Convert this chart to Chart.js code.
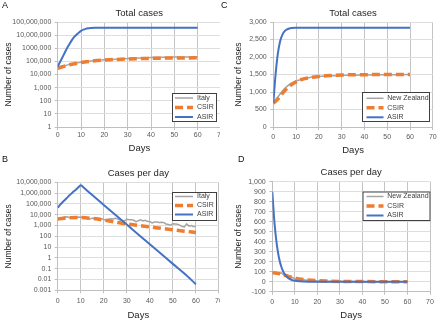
<!DOCTYPE html>
<html>
<head>
<meta charset="utf-8">
<script src="https://cdn.jsdelivr.net/npm/chart.js@4.4.0/dist/chart.umd.min.js"></script>
<style>
  body { margin: 0; background: #fff; width: 440px; height: 321px; position: relative; overflow: hidden; font-family: "Liberation Sans", Arial, sans-serif; }
  .panel { position: absolute; overflow: hidden; }
  .letter { position: absolute; font-size: 9px; line-height: 9px; color: #111; }
</style>
</head>
<body>
<div class="panel" style="left:0;top:0;width:220px;height:160px"><canvas id="chartA"></canvas></div>
<div class="panel" style="left:0;top:160px;width:220px;height:161px"><canvas id="chartB"></canvas></div>
<div class="panel" style="left:220px;top:0;width:220px;height:160px"><canvas id="chartC"></canvas></div>
<div class="panel" style="left:220px;top:160px;width:220px;height:161px"><canvas id="chartD"></canvas></div>
<div class="letter" style="left:2px;top:1px">A</div>
<div class="letter" style="left:2px;top:155px">B</div>
<div class="letter" style="left:221px;top:1px">C</div>
<div class="letter" style="left:238px;top:155px">D</div>
<script>
// ---- data ----
const xTicks = [0, 10, 20, 30, 40, 50, 60, 70]

// A: total cases, Italy (log axis)
const logTicksA = [1, 10, 100, 1000, 1e4, 1e5, 1e6, 1e7, 1e8]
const logLabelsA = ['1', '10', '100', '1,000', '10,000', '100,000', '1000,000', '10,000,000', '100,000,000']
const italyTotalDays = [0, 5, 10, 15, 20, 25, 30, 35, 40, 45, 50, 55, 60]
const italyTotal = [31500, 59100, 86500, 110600, 132500, 147600, 169000, 183000, 197700, 205500, 214500, 219800, 224800]
const csirTotalItaly = [30000, 55000, 82000, 105000, 125000, 140000, 152000, 162000, 170000, 176000, 180000, 183000, 185000]
const asirTotalItalyDays = [0, 1, 2, 3, 4, 5, 6, 7, 8, 9, 10, 11, 12, 13, 14, 16, 20, 30, 40, 50, 60]
const asirTotalItaly = [40000, 90000, 200000, 450000, 1000000, 2000000, 4000000, 7000000, 10500000, 15000000, 21000000,
  26000000, 30000000, 33000000, 35000000, 36500000, 37000000, 37000000, 37000000, 37000000, 37000000]

// B: cases per day, Italy (log axis)
const logTicksB = [0.001, 0.01, 0.1, 1, 10, 100, 1000, 1e4, 1e5, 1e6, 1e7]
const logLabelsB = ['0.001', '0.01', '0.1', '1', '10', '100', '1,000', '10,000', '100,000', '1,000,000', '10,000,000']
const dailyDays = [0, 1, 2, 3, 4, 5, 6, 7, 8, 9, 10, 11, 12, 13, 14, 15, 16, 17, 18, 19, 20, 21, 22, 23, 24, 25, 26, 27, 28, 29, 30,
  31, 32, 33, 34, 35, 36, 37, 38, 39, 40, 41, 42, 43, 44, 45, 46, 47, 48, 49, 50, 51, 52, 53, 54, 55, 56, 57, 58, 59, 60]
const italyDaily = [3526, 4207, 5322, 5986, 6557, 5560, 4789, 5249, 5210, 6153, 5959, 5974, 5217, 4050, 4053,
  4782, 4668, 4585, 4805, 4316, 3599, 3039, 3836, 4204, 3951, 4694, 4092, 3153, 2972, 2667, 3786, 3493, 3491, 3047, 2256,
  2729, 3370, 2646, 3021, 2357, 2324, 1739, 2091, 2086, 1872, 1965, 1900, 1389, 1221, 1075, 1444, 1401, 1327, 1083, 802,
  744, 1402, 888, 992, 789, 875]
const csirDailyItalyDays = [0, 5, 10, 15, 20, 25, 30, 35, 40, 45, 50, 55, 60]
const csirDailyItaly = [4000, 5200, 5600, 4500, 3200, 2100, 1400, 1000, 750, 540, 400, 300, 230]
const asirDailyItalyDays = [0, 1, 2, 3, 4, 5, 6, 7, 8, 9, 10, 11, 12, 15, 20, 25, 30, 35, 40, 45, 50, 55, 60]
const asirDailyItaly = [45000, 80000, 135000, 220000, 360000, 590000, 930000, 1450000, 2200000, 3500000, 5300000, 3700000, 2400000,
  660000, 81000, 10000, 1230, 150, 18.6, 2.3, 0.28, 0.035, 0.0037]

// C: total cases, New Zealand
const linTicksC = [0, 500, 1000, 1500, 2000, 2500, 3000]
const linLabelsC = ['0', '500', '1,000', '1,500', '2,000', '2,500', '3,000']
const nzTotalDays = [0, 2, 4, 6, 8, 10, 12, 14, 16, 18, 20, 25, 30, 35, 40, 50, 60]
const nzTotal = [700, 860, 1030, 1160, 1250, 1310, 1350, 1385, 1415, 1435, 1445, 1465, 1475, 1482, 1487, 1492, 1497]
const csirTotalNzDays = [0, 2, 4, 6, 8, 10, 12, 15, 20, 25, 30, 40, 50, 60]
const csirTotalNz = [680, 800, 960, 1100, 1210, 1290, 1350, 1400, 1445, 1470, 1485, 1495, 1498, 1500]
const asirTotalNzDays = [0, 1, 2, 3, 4, 5, 6, 7, 8, 10, 15, 20, 30, 40, 50, 60]
const asirTotalNz = [680, 1500, 2100, 2450, 2640, 2740, 2790, 2815, 2828, 2835, 2838, 2838, 2838, 2838, 2838, 2838]

// D: cases per day, New Zealand
const linTicksD = [-100, 0, 100, 200, 300, 400, 500, 600, 700, 800, 900, 1000]
const linLabelsD = ['-100', '0', '100', '200', '300', '400', '500', '600', '700', '800', '900', '1,000']
const nzDaily = [90, 85, 75, 82, 89, 67, 54, 50, 29, 44, 29, 18, 19, 17, 20, 15, 15, 8, 13, 9, 5, 6, 5, 3, 5, 1, 5, 3, 2, 3,
  6, 2, 2, 1, 0, 0, 1, 0, 2, 1, 0, 0, 0, 1, 0, 0, 0, 0, 1, 0, 0, 0, 0, 0, 0, 0, 1, 0, 0, 0, 0]
const csirDailyNzDays = [0, 2, 4, 6, 8, 10, 12, 15, 20, 25, 30, 40, 50, 60]
const csirDailyNz = [90, 85, 75, 62, 48, 36, 27, 18, 10, 6, 3, 1, 0.5, 0.2]
const asirDailyNzDays = [0, 1, 2, 3, 4, 5, 6, 7, 8, 9, 10, 12, 14, 16, 20, 30, 40, 50, 60]
const asirDailyNz = [900, 580, 370, 235, 150, 95, 60, 38, 24, 15, 10, 4, 1.6, 0.6, 0.1, 0, 0, 0, 0]

// ---- drawing ----
const FONT = '"Liberation Sans", Arial, sans-serif'
const GRAY = '#a5a5a5'
const ORANGE = '#ed7d31'
const BLUE = '#4472c4'

const pts = (xs, ys) => xs.map((x, i) => ({ x: x, y: ys[i] }))

// legend box drawn inside the plot, like the spreadsheet one
const boxLegend = {
  id: 'boxLegend',
  afterDraw(chart, args, o) {
    const ctx = chart.ctx
    ctx.save()
    ctx.fillStyle = '#fff'
    ctx.fillRect(o.x, o.y, o.w, o.h)
    ctx.strokeStyle = '#404040'
    ctx.lineWidth = 1
    ctx.strokeRect(o.x + 0.5, o.y + 0.5, o.w - 1, o.h - 1)
    chart.data.datasets.forEach((ds, i) => {
      const ry = o.rows[i]
      ctx.beginPath()
      ctx.strokeStyle = ds.borderColor
      ctx.lineWidth = ds.borderWidth
      ctx.setLineDash(ds.borderDash || [])
      ctx.moveTo(o.sample[0], ry)
      ctx.lineTo(o.sample[1], ry)
      ctx.stroke()
      ctx.setLineDash([])
      ctx.fillStyle = '#404040'
      ctx.font = '7px ' + FONT
      ctx.textBaseline = 'middle'
      ctx.fillText(ds.label, o.textX, ry)
    })
    ctx.restore()
  }
}

const makeDatasets = (names, grayPts, orangePts, bluePts, grayTension) => [
  { label: names[0], data: grayPts, borderColor: GRAY, borderWidth: 1.5, order: 3,
    tension: grayTension ? 0.4 : 0, cubicInterpolationMode: grayTension ? 'monotone' : 'default' },
  { label: names[1], data: orangePts, borderColor: ORANGE, borderWidth: 3.5, borderDash: [8, 4], order: 2,
    cubicInterpolationMode: 'monotone' },
  { label: names[2], data: bluePts, borderColor: BLUE, borderWidth: 2, order: 1,
    cubicInterpolationMode: 'monotone' }
]

const createPanel = (id, p) => {
  const canvas = document.getElementById(id)
  canvas.width = p.w
  canvas.height = p.h
  const config = {
    type: 'line',
    data: { datasets: p.datasets },
    plugins: [boxLegend],
    options: {
      responsive: false,
      animation: false,
      events: [],
      layout: { padding: p.padding },
      elements: { point: { radius: 0 } },
      plugins: {
        legend: { display: false },
        tooltip: { enabled: false },
        title: {
          display: true, text: p.title, fullSize: false, color: '#262626',
          font: { family: FONT, size: 9.5, weight: 'normal' },
          padding: p.titlePad
        },
        boxLegend: p.legend
      },
      scales: {
        x: {
          type: 'linear', min: 0, max: 70,
          afterBuildTicks: s => { s.ticks = xTicks.map(v => ({ value: v })) },
          afterFit: s => { s.height = p.xH },
          ticks: { color: '#595959', font: { family: FONT, size: 7 }, padding: p.xTickPad, maxRotation: 0, autoSkip: false },
          grid: { color: '#c4c4c4', tickLength: 3, tickColor: '#bfbfbf' },
          border: { color: '#bfbfbf' },
          title: { display: true, text: 'Days', color: '#262626', font: { family: FONT, size: 9.5 }, padding: { top: 0, bottom: p.daysPad } }
        },
        y: {
          type: p.yType, min: p.yTicks[0], max: p.yTicks[p.yTicks.length - 1],
          afterBuildTicks: s => { s.ticks = p.yTicks.map(v => ({ value: v })) },
          afterFit: s => { s.width = p.yW },
          ticks: { color: '#595959', font: { family: FONT, size: 7 }, padding: p.yTickPad, autoSkip: false,
            callback: (v, i) => p.yLabels[i] },
          grid: { color: '#dedede', tickLength: 3, tickColor: '#bfbfbf' },
          border: { color: '#bfbfbf' },
          title: { display: true, text: 'Number of cases', color: '#262626', font: { family: FONT, size: 8.5 }, padding: { top: p.yTitlePad, bottom: 0 } }
        }
      }
    }
  }
  return new Chart(canvas, config)
}

const namesItaly = ['Italy', 'CSIR', 'ASIR']
const namesNz = ['New Zealand', 'CSIR', 'ASIR']

createPanel('chartA', {
  w: 226, h: 160, padding: { left: 3, right: 5, top: 0, bottom: 5 },
  title: 'Total cases', titlePad: { top: 7.3, bottom: 3.3 },
  xH: 28, xTickPad: 1, daysPad: 1.3, yW: 54.7, yTickPad: 3.4, yTitlePad: 1,
  yType: 'logarithmic', yTicks: logTicksA, yLabels: logLabelsA,
  datasets: makeDatasets(namesItaly, pts(italyTotalDays, italyTotal), pts(italyTotalDays, csirTotalItaly),
    pts(asirTotalItalyDays, asirTotalItaly), true),
  legend: { x: 172, y: 93, w: 45, h: 29, rows: [98, 107.5, 117], sample: [175, 193], textX: 197 }
})

createPanel('chartB', {
  w: 226, h: 161, padding: { left: 3, right: 5, top: 0, bottom: 0 },
  title: 'Cases per day', titlePad: { top: 8, bottom: 2.9 },
  xH: 30.7, xTickPad: 3.2, daysPad: 0.3, yW: 54.7, yTickPad: 3.4, yTitlePad: 1,
  yType: 'logarithmic', yTicks: logTicksB, yLabels: logLabelsB,
  datasets: makeDatasets(namesItaly, pts(dailyDays, italyDaily), pts(csirDailyItalyDays, csirDailyItaly),
    pts(asirDailyItalyDays, asirDailyItaly), false),
  legend: { x: 172, y: 32, w: 45, h: 29, rows: [36.5, 45.5, 54.5], sample: [175, 193], textX: 197 }
})

createPanel('chartC', {
  w: 220, h: 160, padding: { left: 12, right: 6.5, top: 0, bottom: 0 },
  title: 'Total cases', titlePad: { top: 7.3, bottom: 3.3 },
  xH: 33, xTickPad: 3.3, daysPad: 4.3, yW: 41.3, yTickPad: 3.6, yTitlePad: 1.7,
  yType: 'linear', yTicks: linTicksC, yLabels: linLabelsC,
  datasets: makeDatasets(namesNz, pts(nzTotalDays, nzTotal), pts(csirTotalNzDays, csirTotalNz),
    pts(asirTotalNzDays, asirTotalNz), true),
  legend: { x: 142, y: 92, w: 68, h: 30, rows: [98.3, 107.7, 117.3], sample: [146.5, 163.5], textX: 167.3 }
})

createPanel('chartD', {
  w: 220, h: 161, padding: { left: 12, right: 10, top: 0, bottom: 0 },
  title: 'Cases per day', titlePad: { top: 7, bottom: 3.3 },
  xH: 29.3, xTickPad: 2.8, daysPad: 0.3, yW: 40.3, yTickPad: 3.6, yTitlePad: 1.9,
  yType: 'linear', yTicks: linTicksD, yLabels: linLabelsD,
  datasets: makeDatasets(namesNz, pts(dailyDays, nzDaily), pts(csirDailyNzDays, csirDailyNz),
    pts(asirDailyNzDays, asirDailyNz), false),
  legend: { x: 142.5, y: 31.5, w: 68, h: 29.5, rows: [36.5, 46, 55.5], sample: [146.5, 163.5], textX: 167.3 }
})
</script>
</body>
</html>
